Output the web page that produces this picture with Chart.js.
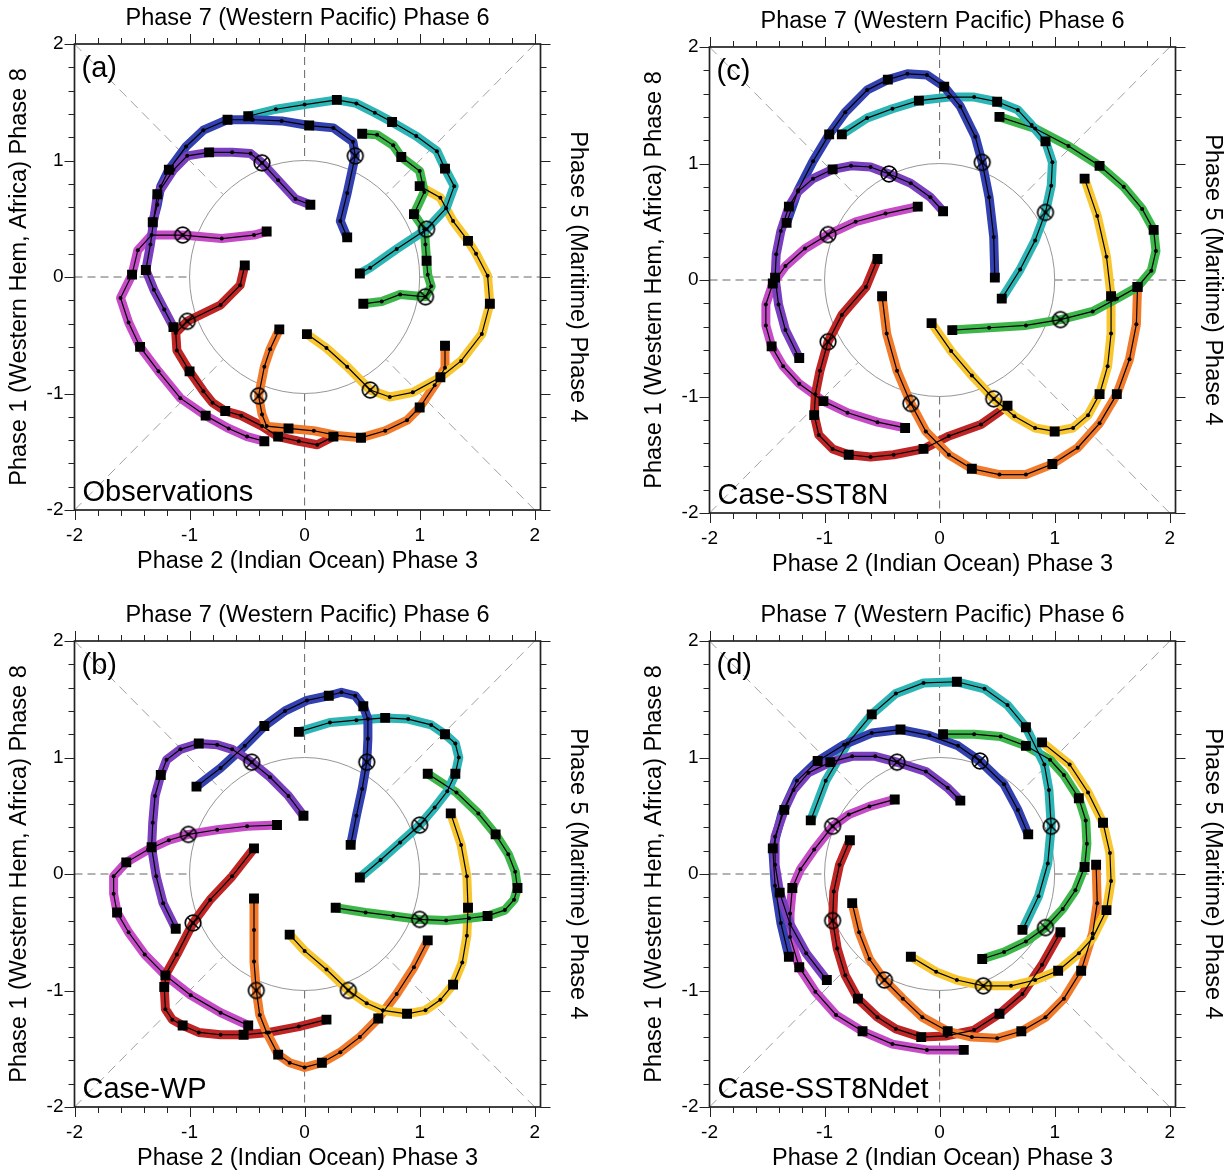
<!DOCTYPE html>
<html>
<head>
<meta charset="utf-8">
<title>MJO phase composites</title>
<script src="https://cdn.jsdelivr.net/npm/chart.js@4.4.1/dist/chart.umd.min.js"></script>
<style>
  body { margin: 0; background: #fff; width: 1231px; height: 1172px; position: relative; overflow: hidden; }
  canvas { position: absolute; }
</style>
</head>
<body>
<canvas id="panelA" width="600" height="586" style="left:0px;top:0px"></canvas>
<canvas id="panelC" width="600" height="586" style="left:635px;top:3px"></canvas>
<canvas id="panelB" width="600" height="586" style="left:0px;top:597px"></canvas>
<canvas id="panelD" width="600" height="586" style="left:635px;top:597px"></canvas>
<script>
// Every track: start, 2 days, day 0 (circled), then a square every 3rd day
const dayMarks = 's..o..s..s..s..s';
const tickValues = [-2, -1, 0, 1, 2];

// (a) Observations
const obsPurple = [[0.05,0.62],[-0.08,0.67],[-0.23,0.83],[-0.37,0.98],[-0.47,1.06],[-0.63,1.07],[-0.83,1.07],[-1.02,1.04],[-1.14,0.92],[-1.28,0.71],[-1.31,0.50],[-1.34,0.28],[-1.38,0.06],[-1.31,-0.11],[-1.22,-0.28],[-1.14,-0.43]];
const obsBlue = [[0.37,0.34],[0.31,0.48],[0.37,0.72],[0.44,1.04],[0.42,1.16],[0.25,1.28],[0.04,1.30],[-0.20,1.34],[-0.45,1.35],[-0.67,1.35],[-0.88,1.26],[-1.03,1.12],[-1.18,0.92],[-1.25,0.78],[-1.28,0.62],[-1.32,0.47]];
const obsTeal = [[0.48,0.03],[0.57,0.08],[0.80,0.24],[1.06,0.41],[1.23,0.59],[1.30,0.78],[1.22,0.93],[1.15,1.08],[0.97,1.21],[0.76,1.33],[0.61,1.41],[0.45,1.49],[0.28,1.52],[0.00,1.48],[-0.25,1.44],[-0.49,1.38]];
const obsGreen = [[0.51,-0.23],[0.67,-0.21],[0.83,-0.15],[1.05,-0.17],[1.10,-0.08],[1.07,0.02],[1.06,0.14],[1.05,0.28],[1.04,0.41],[0.95,0.54],[1.04,0.73],[1.00,0.91],[0.84,1.03],[0.77,1.13],[0.63,1.22],[0.50,1.23]];
const obsYellow = [[0.02,-0.49],[0.19,-0.61],[0.37,-0.77],[0.57,-0.97],[0.74,-1.03],[0.94,-0.99],[1.18,-0.86],[1.36,-0.72],[1.54,-0.49],[1.61,-0.23],[1.59,0.01],[1.49,0.20],[1.42,0.31],[1.29,0.48],[1.18,0.68],[1.00,0.78]];
const obsOrange = [[-0.22,-0.45],[-0.30,-0.62],[-0.35,-0.77],[-0.40,-1.02],[-0.37,-1.18],[-0.33,-1.28],[-0.14,-1.30],[0.08,-1.32],[0.28,-1.36],[0.49,-1.38],[0.70,-1.32],[0.89,-1.23],[1.00,-1.12],[1.13,-0.93],[1.22,-0.78],[1.22,-0.59]];
const obsRed = [[-0.52,0.10],[-0.56,-0.07],[-0.73,-0.24],[-1.02,-0.38],[-1.12,-0.48],[-1.11,-0.63],[-1.00,-0.81],[-0.88,-0.98],[-0.80,-1.08],[-0.69,-1.15],[-0.55,-1.19],[-0.37,-1.28],[-0.23,-1.37],[-0.05,-1.41],[0.11,-1.44],[0.25,-1.37]];
const obsMagenta = [[-0.33,0.39],[-0.44,0.36],[-0.72,0.33],[-1.06,0.36],[-1.33,0.36],[-1.45,0.23],[-1.50,0.02],[-1.60,-0.18],[-1.53,-0.39],[-1.43,-0.60],[-1.27,-0.81],[-1.08,-1.04],[-0.86,-1.19],[-0.66,-1.30],[-0.50,-1.37],[-0.35,-1.41]];

// (b) Case-WP
const wpPurple = [[-0.01,0.50],[-0.14,0.67],[-0.30,0.83],[-0.46,0.96],[-0.63,1.07],[-0.76,1.11],[-0.92,1.12],[-1.08,1.07],[-1.20,0.98],[-1.25,0.85],[-1.30,0.67],[-1.32,0.44],[-1.33,0.23],[-1.29,-0.02],[-1.23,-0.25],[-1.12,-0.47]];
const wpBlue = [[0.40,0.25],[0.45,0.50],[0.50,0.73],[0.54,0.96],[0.55,1.16],[0.55,1.33],[0.51,1.44],[0.44,1.53],[0.32,1.56],[0.21,1.53],[0.02,1.49],[-0.17,1.40],[-0.35,1.27],[-0.52,1.10],[-0.73,0.91],[-0.94,0.75]];
const wpTeal = [[0.48,-0.03],[0.66,0.12],[0.83,0.27],[1.00,0.42],[1.13,0.57],[1.24,0.71],[1.31,0.86],[1.34,1.00],[1.31,1.12],[1.22,1.20],[1.10,1.28],[0.90,1.33],[0.70,1.34],[0.45,1.32],[0.22,1.30],[-0.05,1.22]];
const wpGreen = [[0.27,-0.29],[0.53,-0.33],[0.77,-0.36],[1.00,-0.39],[1.23,-0.40],[1.43,-0.38],[1.59,-0.36],[1.74,-0.31],[1.82,-0.22],[1.85,-0.12],[1.83,0.02],[1.77,0.17],[1.66,0.34],[1.51,0.52],[1.32,0.70],[1.07,0.86]];
const wpYellow = [[-0.13,-0.52],[0.00,-0.66],[0.19,-0.82],[0.38,-1.00],[0.54,-1.11],[0.68,-1.17],[0.89,-1.20],[1.05,-1.17],[1.18,-1.08],[1.29,-0.95],[1.37,-0.76],[1.41,-0.53],[1.42,-0.29],[1.41,-0.02],[1.36,0.25],[1.27,0.52]];
const wpOrange = [[-0.44,-0.21],[-0.44,-0.48],[-0.44,-0.75],[-0.42,-1.00],[-0.39,-1.21],[-0.33,-1.36],[-0.23,-1.55],[-0.13,-1.62],[0.00,-1.66],[0.15,-1.62],[0.31,-1.53],[0.48,-1.40],[0.64,-1.24],[0.80,-1.03],[0.95,-0.80],[1.07,-0.57]];
const wpRed = [[-0.44,0.22],[-0.63,-0.02],[-0.82,-0.22],[-0.97,-0.42],[-1.11,-0.69],[-1.20,-0.85],[-1.22,-0.97],[-1.21,-1.16],[-1.15,-1.25],[-1.06,-1.30],[-0.92,-1.36],[-0.73,-1.38],[-0.53,-1.38],[-0.31,-1.36],[-0.05,-1.31],[0.19,-1.25]];
const wpMagenta = [[-0.24,0.42],[-0.50,0.41],[-0.76,0.38],[-1.01,0.34],[-1.18,0.29],[-1.36,0.21],[-1.55,0.10],[-1.66,-0.02],[-1.66,-0.17],[-1.63,-0.33],[-1.53,-0.50],[-1.39,-0.69],[-1.21,-0.87],[-0.99,-1.04],[-0.73,-1.19],[-0.49,-1.30]];

// (c) Case-SST8N
const sstPurple = [[0.03,0.59],[-0.08,0.71],[-0.25,0.83],[-0.44,0.91],[-0.60,0.97],[-0.77,0.98],[-0.93,0.95],[-1.10,0.87],[-1.23,0.76],[-1.31,0.63],[-1.38,0.42],[-1.42,0.22],[-1.43,0.02],[-1.40,-0.21],[-1.34,-0.43],[-1.22,-0.67]];
const sstBlue = [[0.48,0.02],[0.47,0.37],[0.43,0.71],[0.37,1.01],[0.31,1.23],[0.18,1.49],[0.04,1.66],[-0.11,1.76],[-0.28,1.77],[-0.45,1.72],[-0.63,1.63],[-0.82,1.44],[-0.96,1.25],[-1.10,1.02],[-1.23,0.77],[-1.33,0.49]];
const sstTeal = [[0.54,-0.16],[0.70,0.09],[0.83,0.34],[0.92,0.58],[0.97,0.81],[0.98,1.01],[0.92,1.19],[0.80,1.33],[0.68,1.46],[0.50,1.53],[0.30,1.57],[0.08,1.57],[-0.18,1.54],[-0.41,1.47],[-0.63,1.39],[-0.85,1.25]];
const sstGreen = [[0.11,-0.43],[0.43,-0.41],[0.75,-0.39],[1.05,-0.34],[1.33,-0.27],[1.54,-0.16],[1.72,-0.06],[1.84,0.08],[1.88,0.25],[1.86,0.43],[1.76,0.61],[1.60,0.80],[1.39,0.98],[1.12,1.15],[0.83,1.30],[0.52,1.40]];
const sstYellow = [[-0.07,-0.37],[0.10,-0.61],[0.28,-0.82],[0.47,-1.02],[0.65,-1.17],[0.83,-1.27],[1.00,-1.30],[1.16,-1.27],[1.29,-1.16],[1.39,-0.98],[1.46,-0.74],[1.49,-0.46],[1.49,-0.14],[1.45,0.20],[1.37,0.55],[1.26,0.87]];
const sstOrange = [[-0.50,-0.14],[-0.46,-0.46],[-0.37,-0.78],[-0.25,-1.06],[-0.12,-1.30],[0.08,-1.50],[0.28,-1.62],[0.52,-1.67],[0.75,-1.67],[0.98,-1.58],[1.20,-1.44],[1.39,-1.23],[1.54,-0.98],[1.65,-0.68],[1.71,-0.38],[1.72,-0.06]];
const sstRed = [[-0.54,0.18],[-0.64,-0.06],[-0.85,-0.30],[-0.97,-0.53],[-1.04,-0.78],[-1.08,-0.98],[-1.09,-1.16],[-1.05,-1.33],[-0.93,-1.45],[-0.79,-1.50],[-0.60,-1.52],[-0.40,-1.50],[-0.14,-1.45],[0.08,-1.34],[0.36,-1.24],[0.59,-1.08]];
const sstMagenta = [[-0.19,0.63],[-0.47,0.57],[-0.73,0.50],[-0.97,0.39],[-1.17,0.27],[-1.34,0.12],[-1.45,-0.03],[-1.51,-0.21],[-1.51,-0.39],[-1.46,-0.57],[-1.36,-0.74],[-1.22,-0.89],[-1.01,-1.04],[-0.80,-1.14],[-0.54,-1.22],[-0.30,-1.27]];

// (d) Case-SST8Ndet
const detPurple = [[0.18,0.63],[0.07,0.74],[-0.12,0.88],[-0.37,0.96],[-0.56,1.01],[-0.76,1.01],[-0.95,0.96],[-1.14,0.87],[-1.27,0.72],[-1.35,0.55],[-1.43,0.32],[-1.43,0.08],[-1.39,-0.16],[-1.30,-0.43],[-1.16,-0.68],[-0.98,-0.91]];
const detBlue = [[0.77,0.34],[0.68,0.55],[0.56,0.77],[0.35,0.97],[0.16,1.10],[-0.09,1.19],[-0.34,1.24],[-0.59,1.21],[-0.83,1.11],[-1.06,0.97],[-1.24,0.80],[-1.37,0.52],[-1.45,0.22],[-1.43,-0.10],[-1.38,-0.42],[-1.31,-0.71]];
const detTeal = [[0.72,-0.48],[0.86,-0.19],[0.94,0.09],[0.97,0.41],[0.95,0.72],[0.91,0.94],[0.75,1.26],[0.59,1.45],[0.39,1.59],[0.15,1.65],[-0.14,1.64],[-0.38,1.55],[-0.59,1.37],[-0.80,1.12],[-0.99,0.80],[-1.12,0.46]];
const detGreen = [[0.37,-0.73],[0.56,-0.67],[0.75,-0.58],[0.92,-0.46],[1.07,-0.30],[1.18,-0.14],[1.26,0.06],[1.28,0.26],[1.27,0.46],[1.21,0.65],[1.08,0.85],[0.96,0.98],[0.75,1.10],[0.53,1.18],[0.30,1.20],[0.03,1.20]];
const detYellow = [[-0.25,-0.71],[-0.03,-0.84],[0.15,-0.91],[0.38,-0.96],[0.62,-0.96],[0.83,-0.91],[1.03,-0.83],[1.21,-0.68],[1.33,-0.55],[1.45,-0.31],[1.49,-0.06],[1.48,0.18],[1.42,0.44],[1.29,0.70],[1.13,0.94],[0.89,1.13]];
const detOrange = [[-0.76,-0.25],[-0.70,-0.50],[-0.61,-0.73],[-0.48,-0.91],[-0.32,-1.07],[-0.15,-1.23],[0.07,-1.35],[0.28,-1.40],[0.50,-1.41],[0.71,-1.35],[0.92,-1.23],[1.08,-1.07],[1.23,-0.83],[1.33,-0.51],[1.37,-0.25],[1.36,0.08]];
const detRed = [[-0.78,0.29],[-0.87,0.08],[-0.92,-0.15],[-0.93,-0.40],[-0.89,-0.64],[-0.82,-0.87],[-0.71,-1.07],[-0.54,-1.23],[-0.38,-1.33],[-0.16,-1.40],[0.06,-1.39],[0.30,-1.34],[0.52,-1.20],[0.72,-1.03],[0.89,-0.78],[1.05,-0.50]];
const detMagenta = [[-0.39,0.64],[-0.61,0.58],[-0.79,0.51],[-0.93,0.41],[-1.09,0.21],[-1.21,0.04],[-1.28,-0.12],[-1.30,-0.34],[-1.30,-0.54],[-1.22,-0.80],[-1.08,-1.01],[-0.90,-1.21],[-0.67,-1.35],[-0.41,-1.46],[-0.11,-1.51],[0.21,-1.51]];

const FONT = '"Liberation Sans", Arial, Helvetica, sans-serif';
const colors = {
    purple: '#7a3fbe',
    blue: '#3240b0',
    teal: '#2db5b5',
    green: '#3db64a',
    yellow: '#f8c62e',
    orange: '#f17a2b',
    red: '#c02525',
    magenta: '#c64bc7'
};

// circled cross used for day 0
function circledCross() {
    const c = document.createElement('canvas');
    c.width = 22;
    c.height = 22;
    const g = c.getContext('2d');
    g.strokeStyle = '#000';
    g.lineWidth = 1.7;
    g.beginPath();
    g.arc(11, 11, 7.8, 0, Math.PI * 2);
    g.stroke();
    const r = 7.8 * Math.SQRT1_2;
    g.lineWidth = 1.5;
    g.beginPath();
    g.moveTo(11 - r, 11 - r); g.lineTo(11 + r, 11 + r);
    g.moveTo(11 + r, 11 - r); g.lineTo(11 - r, 11 + r);
    g.stroke();
    g.fillStyle = '#000';
    g.beginPath();
    g.arc(11, 11, 2, 0, Math.PI * 2);
    g.fill();
    return c;
}
const dayZero = circledCross();
const markStyle = { 's': 'rect', '.': 'circle', 'o': dayZero };
const markRadius = { 's': 7, '.': 2, 'o': 8 };

// dashed spokes, unit circle, box and outward ticks
const phaseFrame = {
    id: 'phaseFrame',
    beforeDatasetsDraw(chart) {
        const { ctx, scales: { x, y } } = chart;
        const seg = (x0, y0, x1, y1) => {
            ctx.beginPath();
            ctx.moveTo(x.getPixelForValue(x0), y.getPixelForValue(y0));
            ctx.lineTo(x.getPixelForValue(x1), y.getPixelForValue(y1));
            ctx.stroke();
        };
        ctx.save();
        ctx.lineWidth = 1;
        ctx.strokeStyle = '#666';
        ctx.setLineDash([8, 5]);
        seg(-2, 0, -1, 0); seg(1, 0, 2.05, 0);
        seg(0, 2, 0, 1); seg(0, -1, 0, -2);
        ctx.strokeStyle = '#a0a0a0';
        ctx.setLineDash([10, 6]);
        const d = Math.SQRT1_2;
        seg(-2, 2, -d, d); seg(2, 2, d, d);
        seg(-2, -2, -d, -d); seg(2, -2, d, -d);
        ctx.setLineDash([]);
        ctx.strokeStyle = '#8a8a8a';
        ctx.lineWidth = 0.9;
        const cx = x.getPixelForValue(0), cy = y.getPixelForValue(0);
        ctx.beginPath();
        ctx.ellipse(cx, cy, x.getPixelForValue(1) - cx, cy - y.getPixelForValue(1), 0, 0, Math.PI * 2);
        ctx.stroke();
        ctx.restore();
    },
    afterDraw(chart, args, opts) {
        const { ctx, chartArea: a, scales: { x, y } } = chart;
        ctx.save();
        ctx.strokeStyle = '#222';
        ctx.lineWidth = 1;
        for (let i = -10; i <= 10; i++) {
            const len = i % 5 === 0 ? 10 : 6;
            const px = Math.round(x.getPixelForValue(i / 5)) + 0.5;
            const py = Math.round(y.getPixelForValue(i / 5)) + 0.5;
            ctx.beginPath();
            ctx.moveTo(px, a.bottom); ctx.lineTo(px, a.bottom + len);
            ctx.moveTo(px, a.top); ctx.lineTo(px, a.top - len);
            ctx.moveTo(a.left, py); ctx.lineTo(a.left - len, py);
            ctx.moveTo(a.right, py); ctx.lineTo(a.right + len, py);
            ctx.stroke();
        }
        ctx.lineWidth = 1.7;
        ctx.strokeRect(a.left, a.top, a.right - a.left, a.bottom - a.top);
        ctx.fillStyle = '#000';
        ctx.font = '29px ' + FONT;
        ctx.textBaseline = 'alphabetic';
        ctx.fillText(opts.label, a.left + 7, a.top + 33);
        ctx.fillText(opts.caseName, a.left + 8, a.bottom - 9);
        ctx.restore();
    }
};

function makePanel(canvasId, label, caseName, tracks) {
    const datasets = [];
    tracks.forEach(([pts, color]) => {
        const data = pts.map(p => ({ x: p[0], y: p[1] }));
        const marks = dayMarks.split('');
        // colored band
        datasets.push({ data, showLine: true, borderColor: color, borderWidth: 9,
            borderJoinStyle: 'round', pointRadius: 0, order: 3 });
        // thin black track
        datasets.push({ data, showLine: true, borderColor: '#000', borderWidth: 1.2,
            pointRadius: 0, order: 2 });
        // day markers
        datasets.push({ data, showLine: false, order: 1,
            pointStyle: marks.map(m => markStyle[m]),
            pointRadius: marks.map(m => markRadius[m]),
            pointBackgroundColor: '#000', pointBorderWidth: 0 });
    });

    const axisTitle = (text, padding) => ({
        display: true, text, color: '#000', padding,
        font: { family: FONT, size: 23.5 }
    });
    const tickFont = { family: FONT, size: 19 };

    new Chart(document.getElementById(canvasId), {
        type: 'scatter',
        data: { datasets },
        options: {
            responsive: false,
            animation: false,
            events: [],
            layout: { padding: 0 },
            plugins: {
                legend: { display: false },
                tooltip: { enabled: false },
                phaseFrame: { label, caseName }
            },
            scales: {
                x: {
                    type: 'linear', position: 'bottom', min: -2, max: 2.05,
                    afterBuildTicks: s => { s.ticks = tickValues.map(v => ({ value: v })); },
                    afterFit: s => { s.height = 76; },
                    grid: { display: false, drawTicks: false },
                    border: { display: false },
                    ticks: { font: tickFont, color: '#000', padding: 14, maxRotation: 0 },
                    title: axisTitle('Phase 2 (Indian Ocean) Phase 3', { top: 0, bottom: 10 })
                },
                y: {
                    type: 'linear', position: 'left', min: -2, max: 2,
                    afterBuildTicks: s => { s.ticks = tickValues.map(v => ({ value: v })); },
                    afterFit: s => { s.width = 74.5; },
                    grid: { display: false, drawTicks: false },
                    border: { display: false },
                    ticks: { font: tickFont, color: '#000', padding: 11 },
                    title: axisTitle('Phase 1 (Western Hem, Africa) Phase 8', { top: 5, bottom: 0 })
                },
                x2: {
                    type: 'linear', position: 'top', min: -2, max: 2.05,
                    afterFit: s => { s.height = 44; },
                    grid: { display: false, drawTicks: false },
                    border: { display: false },
                    ticks: { display: false },
                    title: axisTitle('Phase 7 (Western Pacific) Phase 6', { top: 4, bottom: 0 })
                },
                y2: {
                    type: 'linear', position: 'right', min: -2, max: 2,
                    afterFit: s => { s.width = 59.5; },
                    grid: { display: false, drawTicks: false },
                    border: { display: false },
                    ticks: { display: false },
                    title: axisTitle('Phase 5 (Maritime) Phase 4', { top: 8, bottom: 0 })
                }
            }
        },
        plugins: [phaseFrame]
    });
}

makePanel('panelA', '(a)', 'Observations', [
    [obsPurple, colors.purple], [obsBlue, colors.blue], [obsTeal, colors.teal], [obsGreen, colors.green],
    [obsYellow, colors.yellow], [obsOrange, colors.orange], [obsRed, colors.red], [obsMagenta, colors.magenta]
]);
makePanel('panelC', '(c)', 'Case-SST8N', [
    [sstPurple, colors.purple], [sstBlue, colors.blue], [sstTeal, colors.teal], [sstGreen, colors.green],
    [sstYellow, colors.yellow], [sstOrange, colors.orange], [sstRed, colors.red], [sstMagenta, colors.magenta]
]);
makePanel('panelB', '(b)', 'Case-WP', [
    [wpPurple, colors.purple], [wpBlue, colors.blue], [wpTeal, colors.teal], [wpGreen, colors.green],
    [wpYellow, colors.yellow], [wpOrange, colors.orange], [wpRed, colors.red], [wpMagenta, colors.magenta]
]);
makePanel('panelD', '(d)', 'Case-SST8Ndet', [
    [detPurple, colors.purple], [detBlue, colors.blue], [detTeal, colors.teal], [detGreen, colors.green],
    [detYellow, colors.yellow], [detOrange, colors.orange], [detRed, colors.red], [detMagenta, colors.magenta]
]);
</script>
</body>
</html>
